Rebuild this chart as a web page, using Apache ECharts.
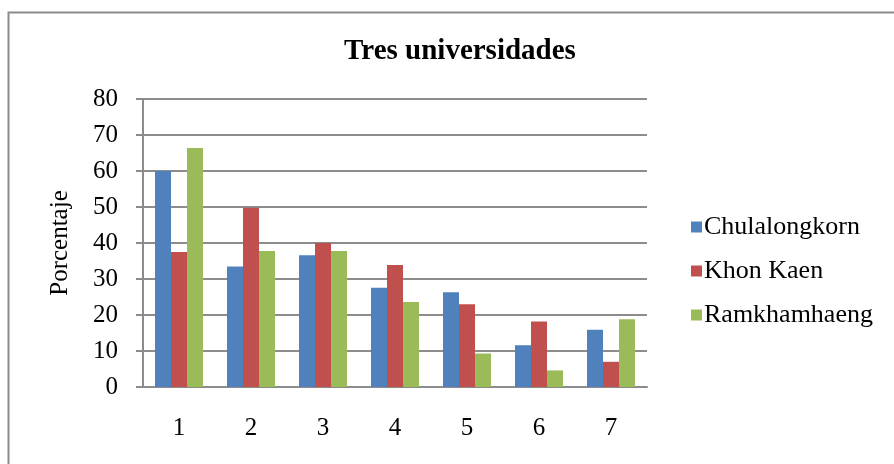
<!DOCTYPE html>
<html>
<head>
<meta charset="utf-8">
<script src="https://cdn.jsdelivr.net/npm/echarts@6/dist/echarts.min.js"></script>
<style>
  html, body { margin: 0; padding: 0; background: #fff; }
  #chart { width: 894px; height: 464px; }
</style>
</head>
<body>
<div id="chart"></div>
<script>
// categorias y valores
const categories = ['1', '2', '3', '4', '5', '6', '7']
const chulalongkorn = [60, 33.5, 36.6, 27.6, 26.3, 11.6, 15.9]
const khonKaen = [37.5, 49.8, 40, 33.9, 23, 18.2, 7]
const ramkhamhaeng = [66.4, 37.8, 37.8, 23.6, 9.3, 4.6, 18.8]

const font = '"Liberation Serif", "Times New Roman", serif'

const barSeries = (name, data, color) => ({
  name,
  type: 'bar',
  data,
  barWidth: 16,
  barGap: '0%',
  itemStyle: { color },
  emphasis: { disabled: true }
})

const chart = echarts.init(document.getElementById('chart'))
chart.setOption({
  animation: false,
  textStyle: { fontFamily: font },
  graphic: [
    {
      // marco del grafico (solo arriba e izquierda visibles)
      type: 'rect',
      left: 6,
      top: 10,
      shape: { width: 1200, height: 1200 },
      style: { fill: 'none', stroke: '#8c8c8c', lineWidth: 2 },
      silent: true
    }
  ],
  title: {
    text: 'Tres universidades',
    left: 455,
    top: 32,
    textAlign: 'center',
    textStyle: { fontFamily: font, fontSize: 29, fontWeight: 'bold', color: '#000' }
  },
  legend: {
    orient: 'vertical',
    left: 686,
    top: 209,
    itemWidth: 11,
    itemHeight: 11,
    itemGap: 18,
    icon: 'rect',
    textStyle: { fontFamily: font, fontSize: 26, color: '#000', padding: [0, 0, 0, -3] },
    data: ['Chulalongkorn', 'Khon Kaen', 'Ramkhamhaeng']
  },
  grid: { left: 143, top: 99, width: 504, height: 288, containLabel: false },
  xAxis: {
    type: 'category',
    data: categories,
    axisLine: { lineStyle: { color: '#8c8c8c', width: 2 } },
    axisTick: { show: false },
    axisLabel: { fontFamily: font, fontSize: 25, color: '#000', margin: 29 }
  },
  yAxis: {
    type: 'value',
    min: 0,
    max: 80,
    interval: 10,
    name: 'Porcentaje',
    nameLocation: 'middle',
    nameGap: 70,
    nameTextStyle: { fontFamily: font, fontSize: 25, color: '#000' },
    axisLine: { show: true, lineStyle: { color: '#8c8c8c', width: 2 } },
    axisTick: { show: true, length: 7, lineStyle: { color: '#8c8c8c', width: 2 } },
    axisLabel: { fontFamily: font, fontSize: 25, color: '#000', margin: 25 },
    splitLine: { lineStyle: { color: '#8c8c8c', width: 2 } }
  },
  series: [
    barSeries('Chulalongkorn', chulalongkorn, '#4f81bd'),
    barSeries('Khon Kaen', khonKaen, '#c0504d'),
    barSeries('Ramkhamhaeng', ramkhamhaeng, '#9bbb59')
  ]
})
</script>
</body>
</html>
